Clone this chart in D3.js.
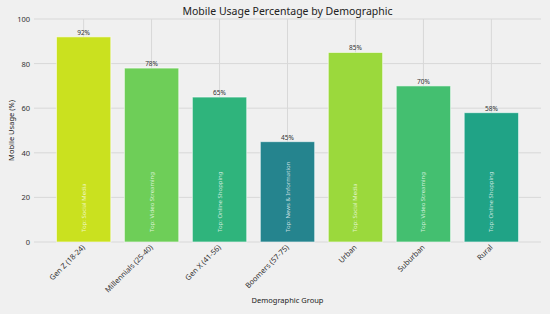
<!DOCTYPE html>
<html>
<head>
<meta charset="utf-8">
<script src="https://cdn.jsdelivr.net/npm/d3@7"></script>
<style>
  body { margin: 0; background: #f0f0f0; }
  text { font-family: "Noto Sans", "Open Sans", sans-serif; }
</style>
</head>
<body>
<div id="chart"></div>
<script>
// data
var groups = ["Gen Z (18-24)", "Millennials (25-40)", "Gen X (41-56)", "Boomers (57-75)", "Urban", "Suburban", "Rural"];
var usage = [92, 78, 65, 45, 85, 70, 58];
var topActivity = ["Social Media", "Video Streaming", "Online Shopping", "News & Information", "Social Media", "Video Streaming", "Online Shopping"];
var yTicks = [0, 20, 40, 60, 80, 100];

var svgWidth = 550;
var svgHeight = 314;

var margin = { top: 19, right: 9, bottom: 72, left: 34 };
var chartWidth = svgWidth - margin.left - margin.right;
var chartHeight = svgHeight - margin.top - margin.bottom;

var svg = d3.select("#chart")
    .append("svg")
    .attr("width", svgWidth)
    .attr("height", svgHeight);

svg.append("rect")
    .attr("width", svgWidth)
    .attr("height", svgHeight)
    .attr("fill", "#f0f0f0");

var chartGroup = svg.append("g")
    .attr("transform", `translate(${margin.left}, ${margin.top})`);

var data = groups.map(function (g, i) {
    return { group: g, value: usage[i], top: topActivity[i] };
});

var xScale = d3.scaleBand()
    .domain(groups)
    .range([0, chartWidth])
    .paddingInner(0.2)
    .paddingOuter(0.33);

var yScale = d3.scaleLinear()
    .domain([0, 100])
    .range([chartHeight, 0]);

// grid lines
chartGroup.append("g")
    .selectAll("line.hgrid")
    .data(yTicks)
    .enter().append("line")
    .attr("x1", 0)
    .attr("x2", chartWidth)
    .attr("y1", d => yScale(d))
    .attr("y2", d => yScale(d))
    .attr("stroke", "#d8d8d8")
    .attr("stroke-width", 1);

chartGroup.append("g")
    .selectAll("line.vgrid")
    .data(groups)
    .enter().append("line")
    .attr("x1", d => xScale(d) + xScale.bandwidth() / 2)
    .attr("x2", d => xScale(d) + xScale.bandwidth() / 2)
    .attr("y1", 0)
    .attr("y2", chartHeight)
    .attr("stroke", "#d8d8d8")
    .attr("stroke-width", 1);

// axes
var leftAxis = d3.axisLeft(yScale).tickValues(yTicks).tickSize(0).tickPadding(4);
var yAxis = chartGroup.append("g").call(leftAxis);
yAxis.select(".domain").remove();
yAxis.selectAll("text")
    .attr("fill", "#333")
    .style("font-size", "7.5px");

var bottomAxis = d3.axisBottom(xScale).tickSize(0).tickPadding(6);
var xAxis = chartGroup.append("g")
    .attr("transform", `translate(0,${chartHeight})`)
    .call(bottomAxis);
xAxis.select(".domain").remove();
xAxis.selectAll("text")
    .attr("fill", "#333")
    .style("font-size", "7.5px")
    .attr("text-anchor", "end")
    .attr("dy", "0.35em")
    .attr("transform", "translate(0,4) rotate(-45)")
    .attr("y", 0)
    .attr("x", 0);

// bars
var bars = chartGroup.selectAll(".bar")
    .data(data)
    .enter().append("g")
    .attr("class", "bar");

bars.append("rect")
    .attr("x", d => xScale(d.group))
    .attr("y", d => yScale(d.value))
    .attr("width", xScale.bandwidth())
    .attr("height", d => chartHeight - yScale(d.value))
    .attr("fill", d => d3.interpolateViridis(d.value / 100))
    .attr("stroke", "#ffffff")
    .attr("stroke-opacity", 0.6)
    .attr("stroke-width", 1);

bars.append("text")
    .attr("x", d => xScale(d.group) + xScale.bandwidth() / 2)
    .attr("y", d => yScale(d.value) - 2)
    .attr("text-anchor", "middle")
    .attr("fill", "#333")
    .style("font-size", "6.5px")
    .text(d => d.value + "%");

bars.append("text")
    .attr("transform", d => `translate(${xScale(d.group) + xScale.bandwidth() / 2 + 2},${chartHeight - 10}) rotate(-90)`)
    .attr("text-anchor", "start")
    .attr("fill", "#ffffff")
    .attr("fill-opacity", 0.75)
    .style("font-size", "6px")
    .text(d => "Top: " + d.top);

// titles
svg.append("text")
    .attr("x", margin.left + chartWidth / 2)
    .attr("y", 15)
    .attr("text-anchor", "middle")
    .attr("fill", "#222")
    .style("font-size", "10.5px")
    .text("Mobile Usage Percentage by Demographic");

svg.append("text")
    .attr("x", margin.left + chartWidth / 2)
    .attr("y", 303)
    .attr("text-anchor", "middle")
    .attr("fill", "#222")
    .style("font-size", "7.5px")
    .text("Demographic Group");

svg.append("text")
    .attr("transform", `translate(14, ${margin.top + chartHeight / 2}) rotate(-90)`)
    .attr("text-anchor", "middle")
    .attr("fill", "#222")
    .style("font-size", "7.5px")
    .text("Mobile Usage (%)");
</script>
</body>
</html>
